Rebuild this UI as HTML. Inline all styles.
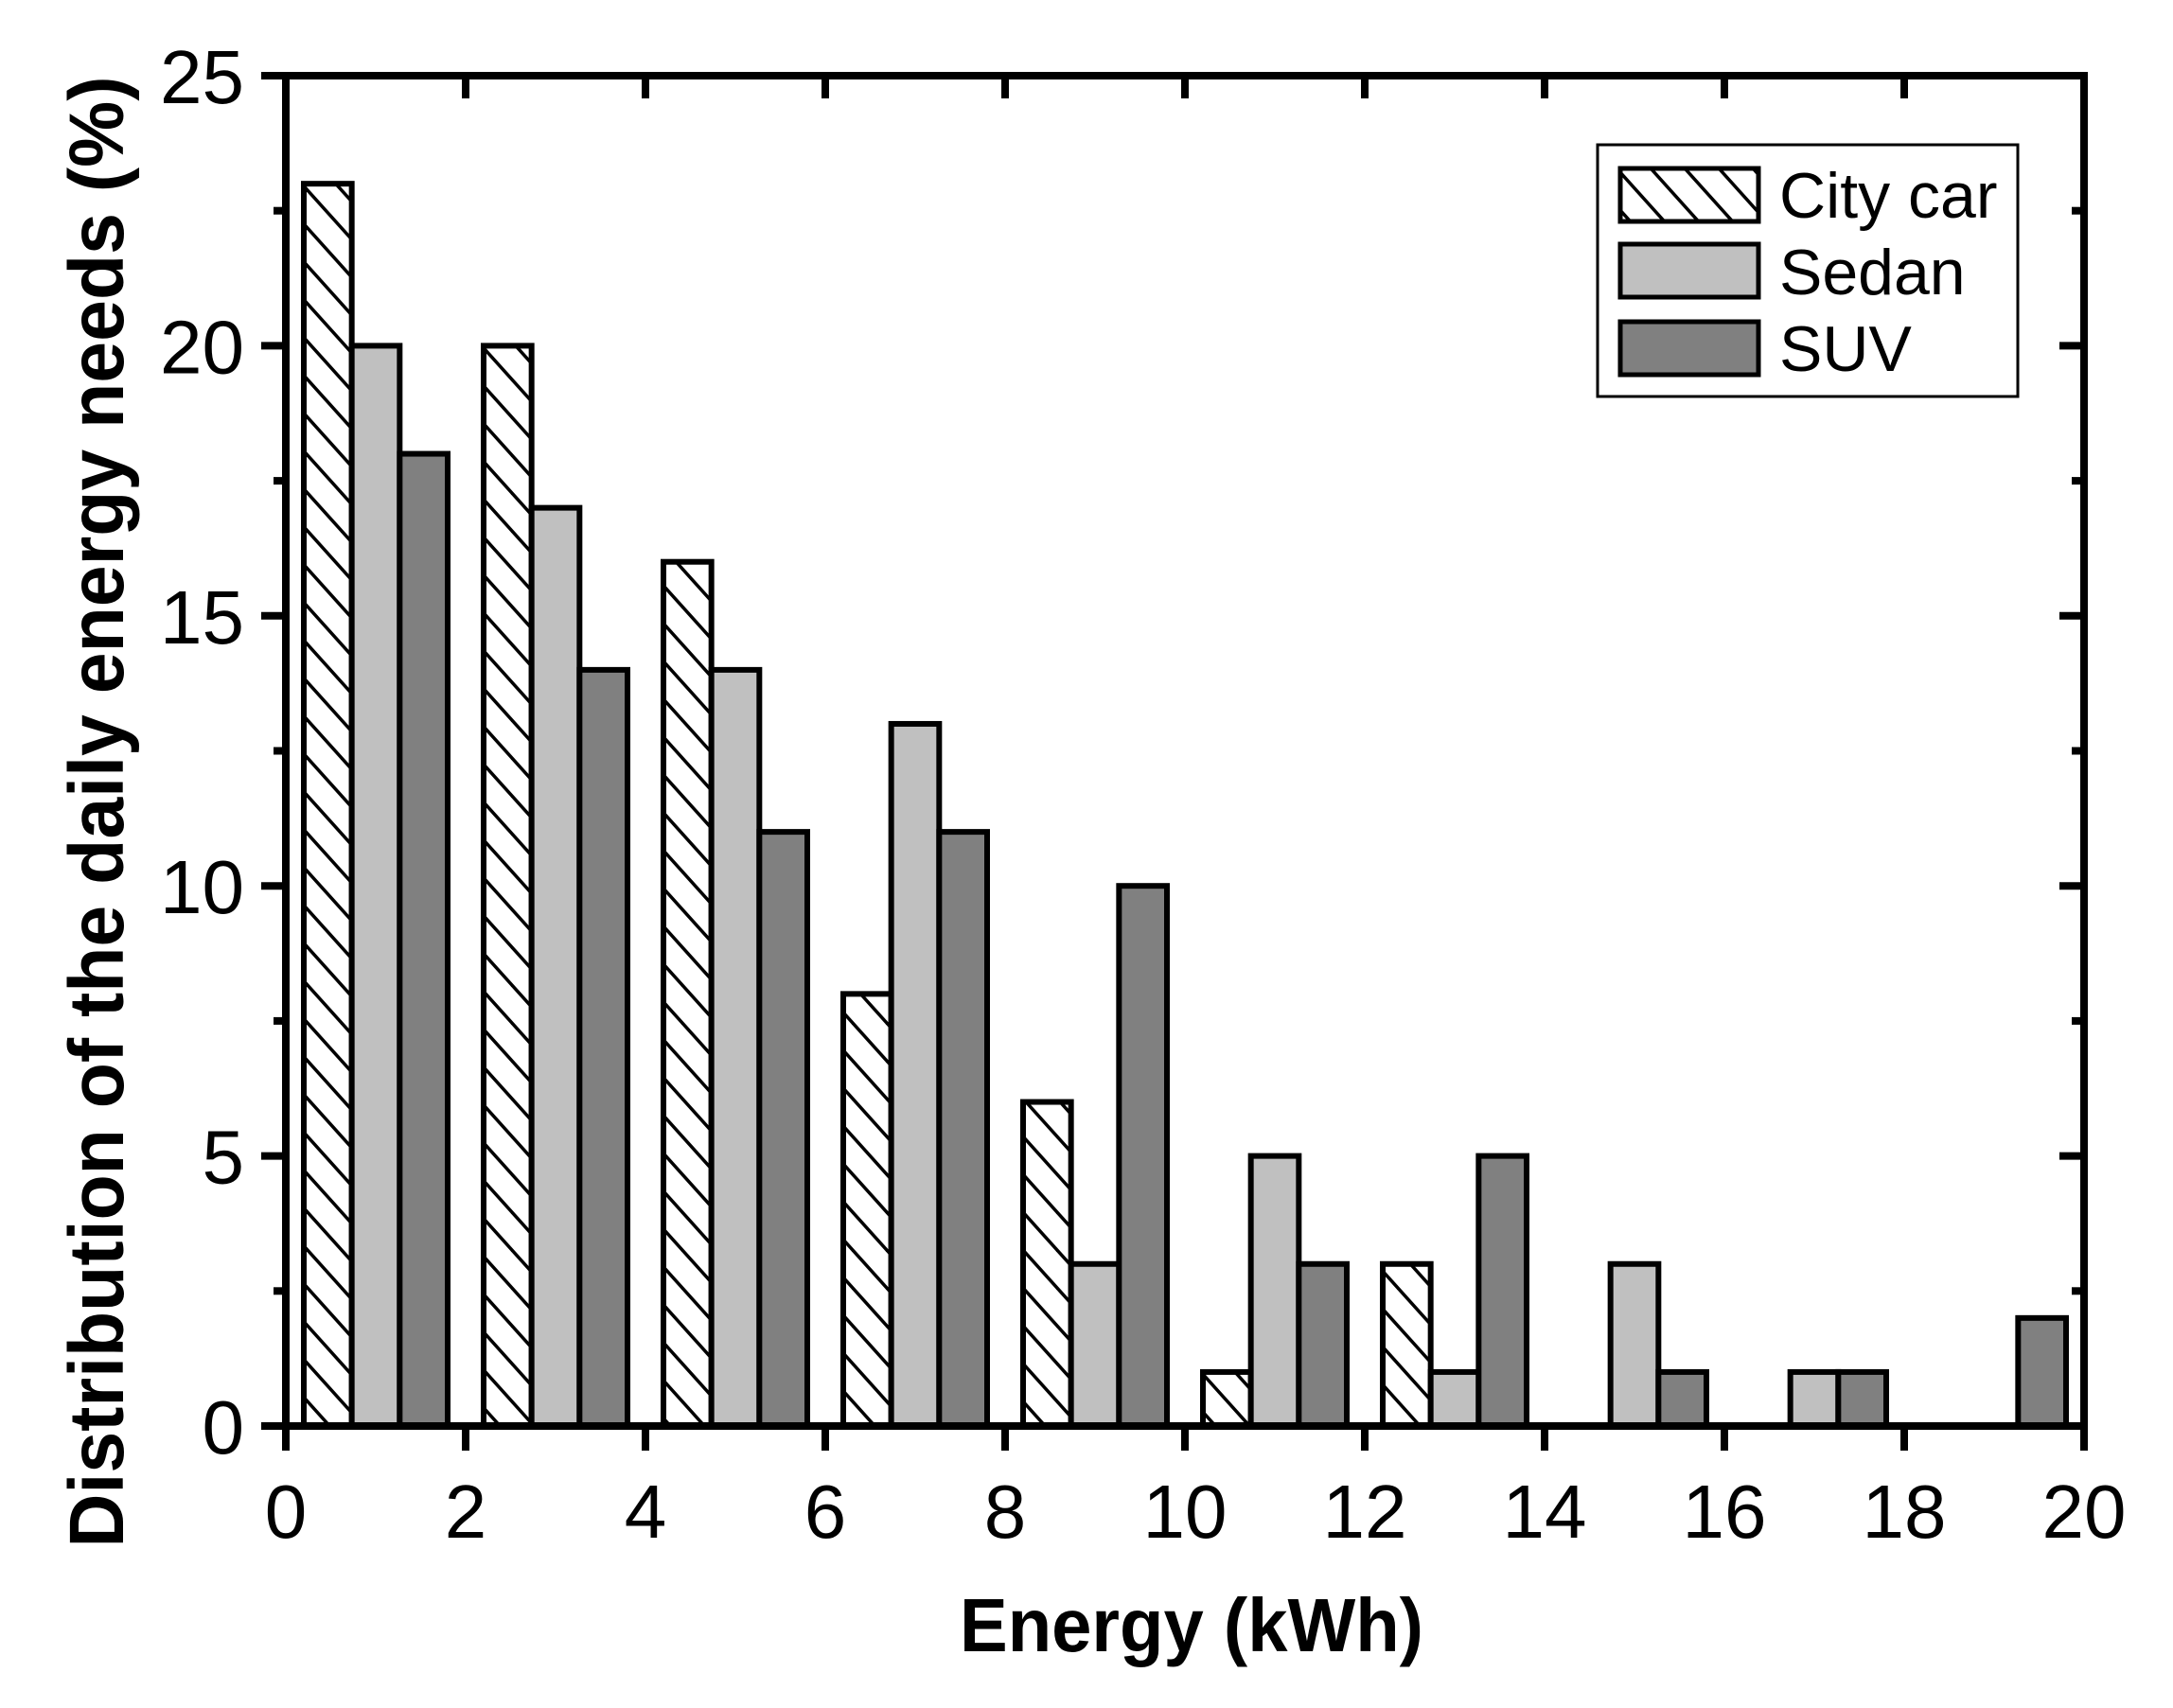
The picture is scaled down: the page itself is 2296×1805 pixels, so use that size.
<!DOCTYPE html>
<html><head><meta charset="utf-8"><style>html,body{margin:0;padding:0;background:#fff}svg{display:block}</style></head>
<body>
<svg width="2296" height="1805" viewBox="0 0 2296 1805" xmlns="http://www.w3.org/2000/svg" font-family="Liberation Sans, Arial, sans-serif">
<defs>
<pattern id="h" patternUnits="userSpaceOnUse" width="36" height="40" patternTransform="translate(0,0)">
<line x1="-36" y1="-40" x2="72" y2="80" stroke="#000" stroke-width="3.5"/>
<line x1="-72" y1="-40" x2="36" y2="80" stroke="#000" stroke-width="3.5"/>
<line x1="0" y1="-40" x2="108" y2="80" stroke="#000" stroke-width="3.5"/>
</pattern>
</defs>
<rect width="2296" height="1805" fill="#fff"/>
<g id="bars" stroke="#000" stroke-width="6"></g>
<g id="ax" stroke="#000" stroke-width="8" fill="none"></g>
<g id="lbl" font-size="80" fill="#000"></g>
<rect x="1688" y="153" width="444" height="266" fill="#fff" stroke="#000" stroke-width="3"/>
<rect x="1712" y="178" width="146" height="56" fill="url(#h)" stroke="#000" stroke-width="5"/>
<rect x="1712" y="258" width="146" height="56" fill="#c0c0c0" stroke="#000" stroke-width="5"/>
<rect x="1712" y="340" width="146" height="56" fill="#808080" stroke="#000" stroke-width="5"/>
<text x="1880" y="230" font-size="68">City car</text>
<text x="1880" y="311" font-size="68">Sedan</text>
<text x="1880" y="392" font-size="68">SUV</text>
<text x="1259" y="1745" font-size="80" font-weight="bold" text-anchor="middle" textLength="490" lengthAdjust="spacingAndGlyphs">Energy (kWh)</text>
<text transform="translate(130,858) rotate(-90)" font-size="82" font-weight="bold" text-anchor="middle" textLength="1555" lengthAdjust="spacingAndGlyphs">Distribution of the daily energy needs (%)</text>
<script>
(function(){
var X0=302,X1=2202,Y0=1507,Y1=80;
function X(v){return X0+(X1-X0)*v/20}
function Y(v){return Y0-(Y0-Y1)*v/25}
var ns="http://www.w3.org/2000/svg";
function el(p,t,a,txt){var e=document.createElementNS(ns,t);for(var k in a)e.setAttribute(k,a[k]);if(txt!=null)e.textContent=txt;p.appendChild(e);return e}
var city=[23,20,16,8,6,1,3,0,0,0],sed=[20,17,14,13,3,5,1,3,1,0],suv=[18,14,11,11,10,3,5,1,1,2];
var b=document.getElementById('bars');
for(var i=0;i<10;i++){var c=1+2*i;
 var sets=[[city[i],c-0.8,'url(#h)'],[sed[i],c-0.2667,'#c0c0c0'],[suv[i],c+0.2667,'#808080']];
 sets.forEach(function(s){if(s[0]<=0)return;var x=X(s[1]),w=X(s[1]+0.5333)-x,y=Y(s[0]);
  el(b,'rect',{x:x,y:y,width:w,height:Y0-y,fill:s[2]});});
}
var a=document.getElementById('ax');
el(a,'rect',{x:X0,y:Y1,width:X1-X0,height:Y0-Y1});
for(var v=0;v<=20;v+=2){var x=X(v);el(a,'line',{x1:x,y1:Y0,x2:x,y2:Y0+26});el(a,'line',{x1:x,y1:Y1,x2:x,y2:Y1+24});}
for(var v=0;v<=25;v+=2.5){var y=Y(v),L=(v%5==0)?26:13;el(a,'line',{x1:X0,y1:y,x2:X0-L,y2:y});el(a,'line',{x1:X1,y1:y,x2:X1-L,y2:y});}
var l=document.getElementById('lbl');
for(var v=0;v<=20;v+=2)el(l,'text',{x:X(v),y:1625,'text-anchor':'middle'},String(v));
for(var v=0;v<=25;v+=5)el(l,'text',{x:258,y:Y(v)+29,'text-anchor':'end'},String(v));
})();
</script>
</svg>
</body></html>
